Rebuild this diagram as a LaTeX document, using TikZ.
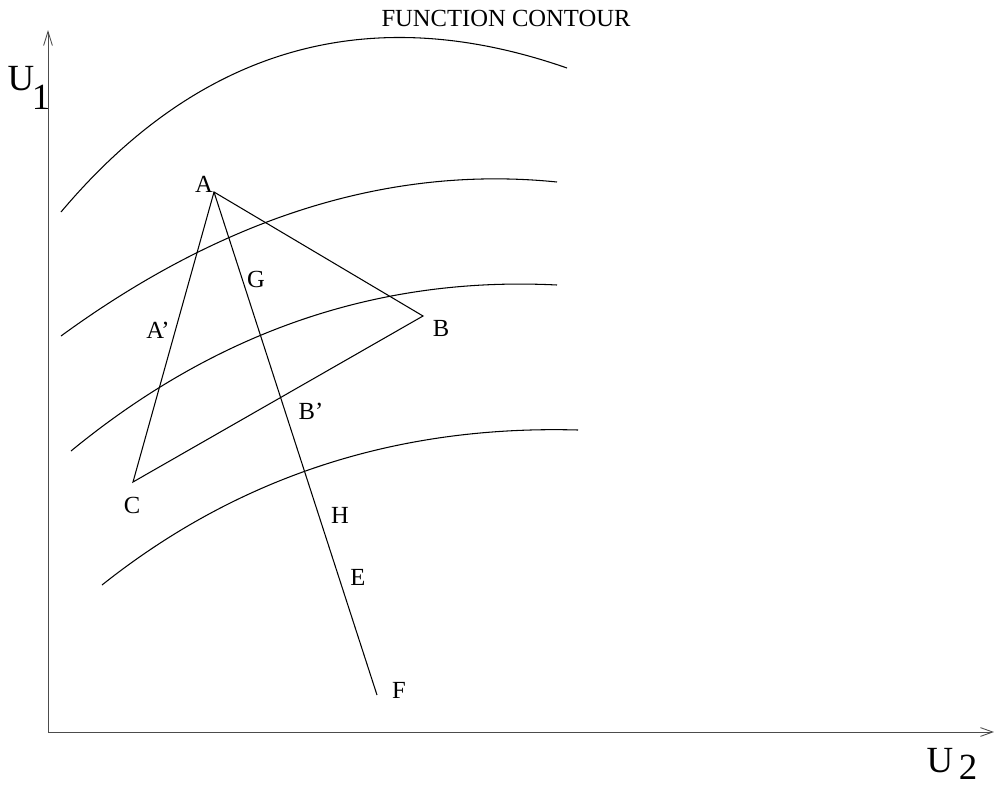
\documentclass[tikz,border=0pt]{standalone}
\usepackage{fontspec}
\setmainfont{Liberation Serif}
\usetikzlibrary{arrows.meta}

\begin{document}
\begin{tikzpicture}[x=0.02cm,y=-0.02cm,
    axis/.style={draw=black!70,line width=0.5pt},
    contour/.style={draw=black,line width=0.6pt},
    simplex/.style={draw=black,line width=0.6pt},
    lbl/.style={inner sep=0pt,text depth=0pt,font=\fontsize{14}{16}\selectfont},
    axlbl/.style={inner sep=0pt,text depth=0pt,font=\fontsize{21}{24}\selectfont}]
    \useasboundingbox (0,0) rectangle (994,785);
    % axes
    \coordinate (O) at (48,732);
    \coordinate (Ytip) at (48,30);
    \coordinate (Xtip) at (994,732);
    \draw[axis,-{Straight Barb[length=8pt,width=5pt]}] (O) -- (Ytip);
    \draw[axis,-{Straight Barb[length=7pt,width=5pt]}] (O) -- (Xtip);
    \node[axlbl] (u1) at (21,78) {U};
    \node[axlbl] (u1i) at (41,97) {1};
    \node[axlbl] (u2) at (940,760) {U};
    \node[axlbl] (u2i) at (968,767) {2};
    \node[lbl] (title) at (506,18) {FUNCTION CONTOUR};
    % contours
    \draw[contour] (61,212) .. controls (200,47) and (369,-1) .. (567,68);
    \draw[contour] (61,336) .. controls (224,217) and (390,165) .. (557,182);
    \draw[contour] (71,451) .. controls (217,331) and (379,276) .. (557,285);
    \draw[contour] (102,585) .. controls (239,476) and (398,425) .. (578,430);
    % simplex and search line
    \coordinate (A) at (214,192);
    \coordinate (B) at (423,316);
    \coordinate (C) at (133,482);
    \coordinate (F) at (377,695);
    \draw[simplex] (A) -- (B) -- (C) -- cycle;
    \draw[simplex] (A) -- (F);
    \foreach \n/\t/\x/\y in {lA/A/204/184, lG/G/256/279, lAp/A'/158/330,
        lB/B/441/328, lBp/B'/311/411, lC/C/132/505, lH/H/340/515,
        lE/E/358/577, lF/F/399/690}
      \node[lbl] (\n) at (\x,\y) {\t};
\end{tikzpicture}
\end{document}
